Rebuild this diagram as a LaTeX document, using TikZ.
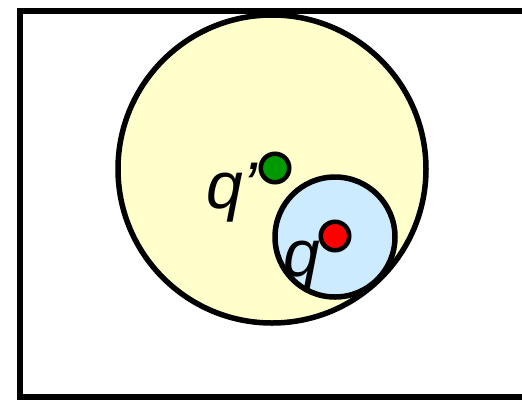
\documentclass[tikz,border=0pt]{standalone}
\usepackage{fontspec}
\setmainfont{Liberation Sans}
\definecolor{paleyellow}{HTML}{FFFFCC}
\definecolor{paleblue}{HTML}{CCEBFF}
\definecolor{dotgreen}{HTML}{009900}
\definecolor{dotred}{HTML}{FF0000}
\tikzset{
  region/.style={circle, draw=black, line width=5.5pt, inner sep=0pt},
  dot/.style={circle, draw=black, line width=4.5pt, inner sep=0pt, minimum size=28.5pt},
  lbl/.style={inner sep=0pt, anchor=base west, font=\fontsize{66}{66}\selectfont\itshape}
}
\begin{document}
\begin{tikzpicture}[x=1pt,y=-1pt]
\useasboundingbox (0,0) rectangle (522,400);
\clip (0,0) rectangle (522,400);
\draw[line width=6pt] (530,11) -- (20,11) -- (20,397) -- (530,397);
\node[region, fill=paleyellow, minimum size=308pt] (big) at (272,169) {};
\node[region, fill=paleblue, minimum size=120pt] (small) at (335,237) {};
\node[dot, fill=dotgreen] (qp) at (275,168) {};
\node[dot, fill=dotred] (q) at (335,236) {};
\node[lbl] (qplbl) at (206,208) {q’};
\node[lbl] (qlbl) at (283,276) {q};
\end{tikzpicture}
\end{document}
